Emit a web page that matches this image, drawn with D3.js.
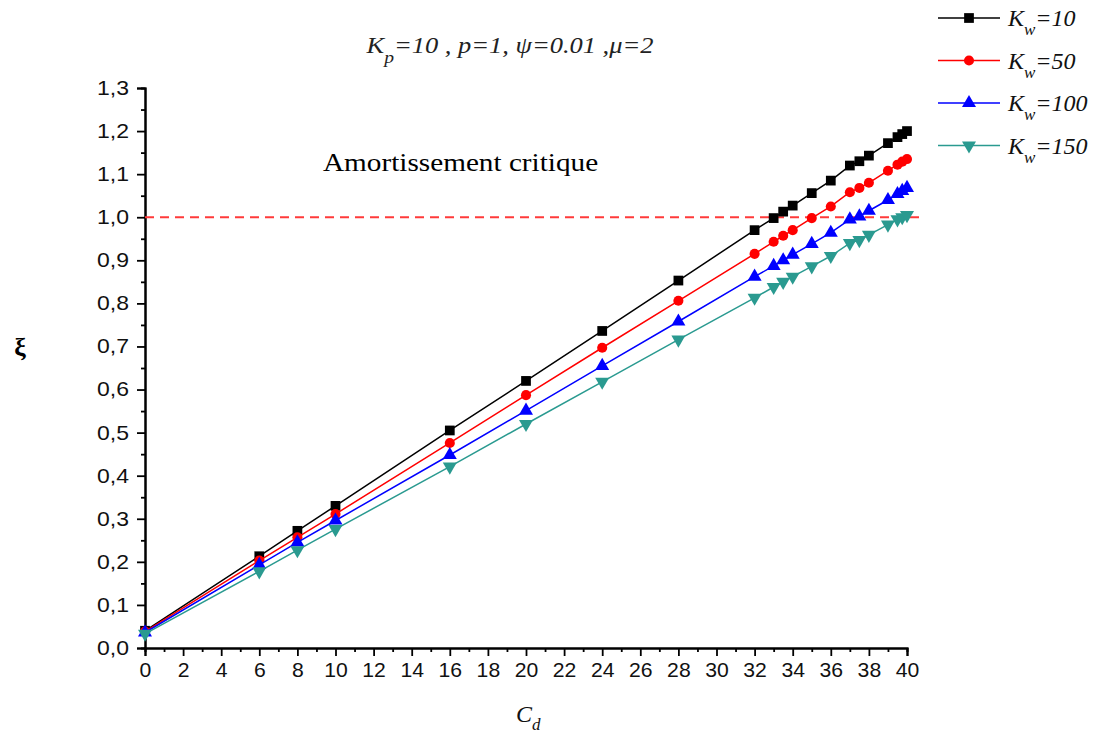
<!DOCTYPE html>
<html>
<head>
<meta charset="utf-8">
<script src="https://cdn.jsdelivr.net/npm/d3@7"></script>
<style>
  html, body { margin: 0; padding: 0; background: #fff; }
  svg { display: block; }
</style>
</head>
<body>
<svg id="chart" width="1097" height="742"></svg>
<script>
// Damping ratio ξ versus C_d for several K_w values
const cd = [0, 6, 8, 10, 16, 20, 24, 28, 32, 33, 33.5, 34, 35, 36, 37, 37.5, 38, 39, 39.5, 39.75, 40];

const xiKw10  = [0.040, 0.213, 0.272, 0.330, 0.505, 0.620, 0.736, 0.853, 0.970, 0.998, 1.013, 1.027, 1.056, 1.085, 1.120, 1.130, 1.143, 1.172, 1.186, 1.193, 1.200];
const xiKw50  = [0.038, 0.203, 0.257, 0.311, 0.476, 0.587, 0.697, 0.806, 0.915, 0.943, 0.957, 0.970, 0.998, 1.025, 1.058, 1.068, 1.080, 1.108, 1.122, 1.129, 1.135];
const xiKw100 = [0.036, 0.193, 0.245, 0.296, 0.448, 0.551, 0.655, 0.758, 0.862, 0.887, 0.900, 0.913, 0.938, 0.964, 0.995, 1.002, 1.015, 1.040, 1.054, 1.061, 1.068];
const xiKw150 = [0.033, 0.178, 0.227, 0.276, 0.421, 0.520, 0.618, 0.716, 0.813, 0.838, 0.850, 0.862, 0.886, 0.910, 0.940, 0.947, 0.959, 0.983, 0.995, 1.000, 1.005];

const seriesNames = ["10", "50", "100", "150"];
const seriesColors = ["#000000", "#ff0000", "#0000ff", "#2a9a90"];
const seriesSymbols = ["square", "circle", "triangleUp", "triangleDown"];

const xTicks = d3.range(0, 41, 2);
const yTicks = d3.range(0, 14).map(i => i / 10);
const criticalLevel = 1.0;

const svg = d3.select("#chart");

const x = d3.scaleLinear().domain([0, 40]).range([145, 907]);
const y = d3.scaleLinear().domain([0, 1.3]).range([648, 88]);

const fmtY = d => d3.format(".1f")(d).replace(".", ",");
const sans = "'Liberation Sans', Arial, sans-serif";
const serif = "'Liberation Serif', 'Times New Roman', serif";

// Axes: major ticks with labels, minor ticks halfway between
const xAxis = d3.axisBottom(x).tickValues(xTicks).tickSize(8).tickPadding(7).tickFormat(d3.format("d"));
const xMinor = d3.axisBottom(x).tickValues(d3.range(1, 40, 2)).tickSize(4).tickFormat("");
const yAxis = d3.axisLeft(y).tickValues(yTicks).tickSize(8).tickPadding(8).tickFormat(fmtY);
const yMinor = d3.axisLeft(y).tickValues(d3.range(0, 13).map(i => i / 10 + 0.05)).tickSize(4).tickFormat("");

function styleAxis(g) {
  g.select(".domain").attr("stroke", "#000").attr("stroke-width", 2);
  g.selectAll(".tick line").attr("stroke", "#000").attr("stroke-width", 1.8);
  g.selectAll(".tick text")
    .attr("fill", "#111")
    .style("font-family", sans)
    .style("font-size", "20px");
}

svg.append("g").attr("transform", `translate(0,${y(0)})`).call(xMinor).call(styleAxis);
svg.append("g").attr("transform", `translate(0,${y(0)})`).call(xAxis).call(styleAxis)
  .selectAll(".tick text").attr("transform", "scale(1.06,1)");
svg.append("g").attr("transform", `translate(${x(0)},0)`).call(yMinor).call(styleAxis);
svg.append("g").attr("transform", `translate(${x(0)},0)`).call(yAxis).call(styleAxis)
  .selectAll(".tick text").attr("transform", "scale(1.15,1)").attr("x", -16 / 1.15);

// Critical damping reference line
svg.append("line")
  .attr("x1", x(0)).attr("x2", x(40) + 14)
  .attr("y1", y(criticalLevel)).attr("y2", y(criticalLevel))
  .attr("stroke", "#ff3a3a").attr("stroke-width", 2)
  .attr("stroke-dasharray", "9,6");

svg.append("text")
  .attr("transform", "translate(323,171) scale(1.17,1)")
  .style("font-family", serif)
  .style("font-size", "25px")
  .attr("fill", "#000")
  .text("Amortissement critique");

const seriesData = [xiKw10, xiKw50, xiKw100, xiKw150];

const symbolGen = {
  square: d3.symbol().type(d3.symbolSquare).size(95),
  circle: d3.symbol().type(d3.symbolCircle).size(80),
  triangleUp: d3.symbol().type(d3.symbolTriangle).size(85),
  triangleDown: d3.symbol().type(d3.symbolTriangle).size(85)
};

const line = d3.line().x(d => x(d[0])).y(d => y(d[1]));

seriesData.forEach((vals, i) => {
  const pts = cd.map((c, j) => [c, vals[j]]);
  const color = seriesColors[i];
  svg.append("path")
    .datum(pts)
    .attr("d", line)
    .attr("fill", "none")
    .attr("stroke", color)
    .attr("stroke-width", 1.5);
  svg.append("g")
    .selectAll("path")
    .data(pts)
    .join("path")
    .attr("d", symbolGen[seriesSymbols[i]]())
    .attr("fill", color)
    .attr("transform", d => `translate(${x(d[0])},${y(d[1])})` + (seriesSymbols[i] === "triangleDown" ? " rotate(180)" : ""));
});

// Title
const title = svg.append("text")
  .attr("transform", "translate(510,53) scale(1.15,1)")
  .attr("text-anchor", "middle")
  .style("font-family", serif)
  .style("font-size", "23px")
  .style("font-style", "italic")
  .attr("fill", "#222");
title.append("tspan").text("K");
title.append("tspan").attr("dy", 10).style("font-size", "17px").text("p");
title.append("tspan").attr("dy", -10).text("=10 , p=1,  \u03c8=0.01 ,\u03bc=2");

// Legend
seriesNames.forEach((name, i) => {
  const ly = 18 + i * 42.5;
  const color = seriesColors[i];
  svg.append("line")
    .attr("x1", 938).attr("x2", 1000).attr("y1", ly).attr("y2", ly)
    .attr("stroke", color).attr("stroke-width", 1.5);
  svg.append("path")
    .attr("d", symbolGen[seriesSymbols[i]]())
    .attr("fill", color)
    .attr("transform", `translate(969,${ly})` + (seriesSymbols[i] === "triangleDown" ? " rotate(180)" : ""));
  const t = svg.append("text")
    .attr("x", 1008).attr("y", ly + 8)
    .style("font-family", serif)
    .style("font-size", "24px")
    .style("font-style", "italic")
    .attr("fill", "#111");
  t.append("tspan").text("K");
  t.append("tspan").attr("dy", 9).style("font-size", "17px").text("w");
  t.append("tspan").attr("dy", -9).text("=" + name);
});

// Axis titles
const xt = svg.append("text")
  .attr("x", 516).attr("y", 722)
  .style("font-family", serif)
  .style("font-size", "24px")
  .style("font-style", "italic")
  .attr("fill", "#111");
xt.append("tspan").text("C");
xt.append("tspan").attr("dy", 8).style("font-size", "17px").text("d");

svg.append("text")
  .attr("x", 20).attr("y", 356)
  .attr("text-anchor", "middle")
  .style("font-family", serif)
  .style("font-size", "26px")
  .style("font-weight", "bold")
  .attr("fill", "#000")
  .text("\u03be");
</script>
</body>
</html>
